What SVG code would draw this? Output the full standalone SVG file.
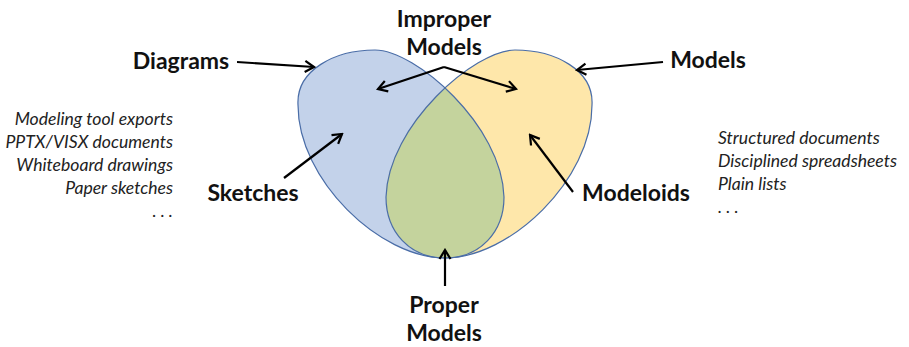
<svg xmlns="http://www.w3.org/2000/svg" width="909" height="347" viewBox="0 0 909 347">
  <style>
    .lbl { font-family: Lato, "Liberation Sans", sans-serif; font-weight: bold; font-size: 23px; fill: #111; text-anchor: middle; }
    .lst { font-family: Lato, "Liberation Sans", sans-serif; font-style: italic; font-size: 17.6px; fill: #222; }
    .edge { fill: none; stroke: #000; stroke-width: 2.2; marker-end: url(#arrow); }
    .outline { fill: none; stroke: #4A6DA7; stroke-width: 1.2; }
  </style>
  <defs>
    <marker id="arrow" markerUnits="userSpaceOnUse" markerWidth="14" markerHeight="14" viewBox="0 0 14 14" refX="12" refY="7" orient="auto">
      <path d="M3,1.5 L12,7 L3,12.5" fill="none" stroke="#000" stroke-width="2.2" stroke-linejoin="miter"/>
    </marker>
    <!-- left set: rounded top-left, rounded bottom at the common lowest point -->
    <path id="leftSet" d="M445,258 C380,258 298,180 298,105 C296,70 335,50 375,50 C415,50 502,125 504,197 C504,232 480,258 445,258 Z"/>
    <!-- right set: mirror of the left one about x=445 -->
    <path id="rightSet" d="M445,258 C510,258 592,180 592,105 C594,70 555,50 515,50 C475,50 388,125 386,197 C386,232 410,258 445,258 Z"/>
    <clipPath id="clipLeft"><use href="#leftSet"/></clipPath>
  </defs>

  <g id="diagrams-set">
    <use href="#leftSet" fill="#C3D2EA"/>
  </g>
  <g id="models-set">
    <use href="#rightSet" fill="#FEE7AA"/>
  </g>
  <g id="proper-models-set">
    <use href="#rightSet" fill="#C4D39D" clip-path="url(#clipLeft)"/>
    <use href="#leftSet" class="outline"/>
    <use href="#rightSet" class="outline"/>
  </g>

  <g id="connectors">
    <path class="edge" d="M237,62 L314,67"/>
    <path class="edge" d="M663,62 L577,70"/>
    <path class="edge" d="M444,67 L378,89"/>
    <path class="edge" d="M444,67 L516,89"/>
    <path class="edge" d="M284,178 L342,134"/>
    <path class="edge" d="M573,192 L530,135"/>
    <path class="edge" d="M445,286 L445,250"/>
  </g>

  <g id="diagrams">
    <text class="lbl" x="181" y="69">Diagrams</text>
  </g>
  <g id="models">
    <text class="lbl" x="708" y="68">Models</text>
  </g>
  <g id="improper-models">
    <text class="lbl" x="444" y="27">Improper</text>
    <text class="lbl" x="444" y="55">Models</text>
  </g>
  <g id="sketches">
    <text class="lbl" x="253" y="201">Sketches</text>
  </g>
  <g id="modeloids">
    <text class="lbl" x="636" y="201">Modeloids</text>
  </g>
  <g id="proper-models">
    <text class="lbl" x="444" y="313">Proper</text>
    <text class="lbl" x="444" y="341">Models</text>
  </g>

  <g id="diagram-examples">
    <text class="lst" text-anchor="end" x="173" y="125">Modeling tool exports</text>
    <text class="lst" text-anchor="end" x="173" y="148">PPTX/VISX documents</text>
    <text class="lst" text-anchor="end" x="173" y="171">Whiteboard drawings</text>
    <text class="lst" text-anchor="end" x="173" y="194">Paper sketches</text>
    <text class="lst" text-anchor="end" x="173" y="217">. . .</text>
  </g>
  <g id="modeloid-examples">
    <text class="lst" x="718" y="144">Structured documents</text>
    <text class="lst" x="718" y="167">Disciplined spreadsheets</text>
    <text class="lst" x="718" y="190">Plain lists</text>
    <text class="lst" x="718" y="213">. . .</text>
  </g>
</svg>
